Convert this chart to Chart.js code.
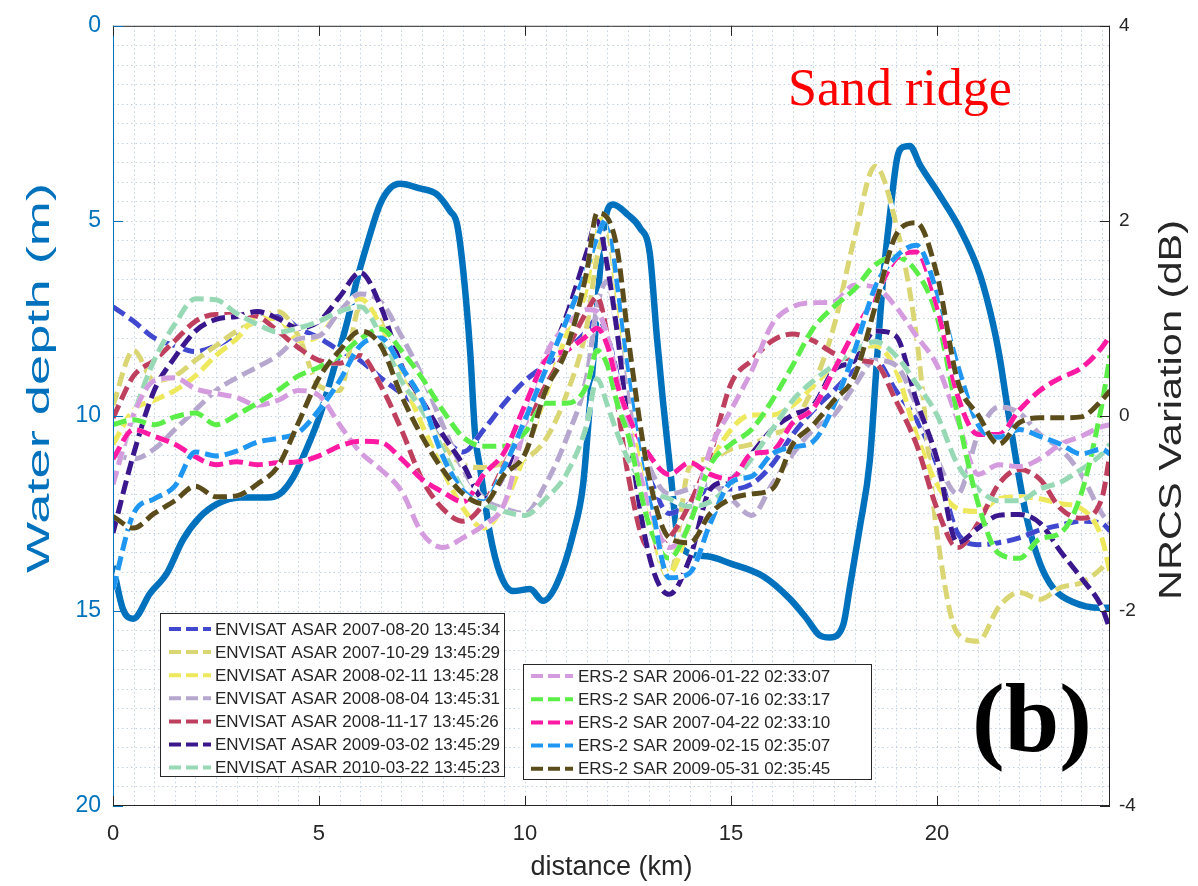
<!DOCTYPE html>
<html>
<head>
<meta charset="utf-8">
<script src="https://cdn.jsdelivr.net/npm/chart.js@4.4.0/dist/chart.umd.min.js"></script>
<style>
html,body{margin:0;padding:0;background:#ffffff;}
#wrap{width:1198px;height:886px;position:relative;}
</style>
</head>
<body>
<div id="wrap"><canvas id="c" width="1198" height="886"></canvas></div>
<script>
// ---------- DATA ----------
// Water depth profile (left axis, m)
const depthDistance = [0,0.24,0.49,0.9,1.31,1.7,2.11,2.52,3.08,3.74,4.05,4.37,4.71,5.02,5.34,5.68,5.92,6.17,6.48,6.72,6.97,7.45,7.86,8.18,8.35,8.5,8.67,8.79,8.91,9.15,9.39,9.71,10.12,10.44,10.78,11.17,11.41,11.58,11.7,11.82,11.94,12.14,12.48,12.79,13.03,13.2,13.35,13.52,13.76,14.42,14.98,15.78,16.43,16.84,17.16,17.4,17.72,17.89,18.13,18.37,18.54,18.69,18.86,19.03,19.17,19.34,19.59,20.07,20.56,21.04,21.36,21.53,21.7,21.94,22.18,22.5,22.82,23.3,23.96,24.2];
const waterDepth = [13.85,14.95,15.2,14.55,14.03,13.17,12.59,12.26,12.09,12.09,12.0,11.58,10.82,9.99,8.87,7.61,6.52,5.59,4.58,4.17,4.05,4.17,4.32,4.75,5.08,6.27,8.37,10.49,11.33,13.02,14.03,14.49,14.44,14.74,14.29,13.02,11.76,9.63,7.96,6.27,5.01,4.58,4.83,5.18,5.84,7.96,9.63,11.33,13.35,13.6,13.78,14.11,14.69,15.2,15.63,15.68,15.37,14.36,12.84,11.15,8.62,6.52,4.83,3.41,3.11,3.08,3.57,4.35,5.21,6.37,7.64,8.55,9.71,11.25,12.62,13.78,14.41,14.77,14.92,14.92];

// Distance samples shared by the NRCS profiles (km)
const distance = [0,0.5,1,1.5,2,2.5,3,3.5,4,4.5,5,5.5,6,6.5,7,7.5,8,8.5,9,9.5,10,10.5,11,11.5,11.75,12,12.25,12.5,13,13.5,14,14.5,15,15.5,16,16.5,17,17.5,18,18.5,19,19.5,20,20.5,21,21.5,22,22.5,23,23.5,24,24.2];

// NRCS variation profiles (right axis, dB)
const envisat_20070820 = [1.12,0.97,0.80,0.72,0.66,0.72,0.84,1.00,1.04,0.90, 0.80,0.67,0.57,0.39,0.23,0.06,-0.21,-0.37,-0.14,0.13, 0.36,0.52,0.67,0.87,1.00,0.82,0.41,0.01,-0.60,-1.00, -0.90,-0.75,-0.75,-0.70,-0.50,-0.19,0.06,0.26,0.47,0.57, 0.26,-0.04,-0.50,-1.20,-1.32,-1.30,-1.25,-1.17,-1.12,-1.08, -1.10,-1.18];
const envisat_20071029 = [0.11,0.67,0.36,0.41,0.57,0.72,0.87,0.97,1.07,0.82, 0.31,0.26,1.12,0.97,0.47,0.06,-0.29,-0.50,-0.53,-0.48, -0.44,-0.24,0.21,0.92,1.63,1.88,1.12,0.21,-1.00,-1.66, -0.52,-0.44,-0.34,-0.29,-0.19,-0.09,0.31,0.92,1.83,2.56, 1.98,0.82,-1.20,-2.23,-2.31,-1.96,-1.81,-1.88,-1.76,-1.71, -1.56,-1.46];
const envisat_20080211 = [-0.29,0.06,0.16,0.26,0.41,0.62,0.79,1.00,1.00,0.77, 0.82,1.07,1.20,0.92,0.41,-0.09,-0.55,-0.95,-1.15,-0.90, -0.39,0.21,0.82,1.32,1.98,2.03,1.22,0.31,-1.00,-1.61, -1.10,-0.50,-0.14,0.01,0.01,0.11,0.31,0.52,0.67,0.72, 0.47,-0.19,-0.70,-0.95,-0.98,-0.85,-0.83,-0.85,-0.90,-0.95, -1.25,-1.61];
const envisat_20080804 = [-0.39,-0.44,-0.34,-0.14,0.06,0.26,0.39,0.50,0.62,0.79, 0.82,1.07,1.25,1.17,0.82,0.41,-0.09,-0.55,-0.85,-0.95, -1.00,-0.70,-0.24,0.41,1.12,1.38,0.82,0.21,-0.50,-0.80, -0.75,-0.70,-0.85,-1.02,-0.70,-0.39,-0.14,0.01,0.31,0.57, 0.52,0.11,-0.44,-0.80,-0.19,0.09,0.03,-0.19,-0.34,-0.60, -1.00,-1.10];
const envisat_20081117 = [-0.02,0.41,0.57,0.77,0.97,1.04,1.04,1.02,0.87,0.70, 0.57,0.54,0.62,0.31,-0.14,-0.65,-0.95,-1.08,-0.90,-0.50, -0.09,0.31,0.67,1.07,1.22,0.82,0.11,-0.60,-1.35,-1.25, -0.90,-0.39,0.33,0.57,0.77,0.84,0.77,0.64,0.57,0.54, 0.16,-0.29,-0.95,-1.35,-1.10,-0.70,-0.55,-0.65,-0.95,-1.05, -0.85,-0.39];
const envisat_20090302 = [-1.20,-0.39,0.26,0.60,0.87,0.99,1.02,1.07,1.00,0.90, 0.97,1.22,1.47,1.12,0.52,0.16,-0.19,-0.50,-0.85,-0.60, -0.04,0.50,1.02,1.68,2.00,1.53,0.82,-0.09,-1.41,-1.83, -1.46,-0.75,-0.65,-0.39,-0.14,0.01,0.11,0.47,0.57,0.87, 0.82,0.16,-0.44,-1.30,-1.15,-1.02,-1.01,-1.10,-1.39,-1.66, -1.96,-2.19];
const envisat_20100322 = [-0.70,0.01,0.57,0.94,1.20,1.19,1.05,0.94,0.86,0.90, 0.97,1.07,1.12,0.82,0.36,0.06,-0.34,-0.75,-0.90,-0.98, -1.02,-0.85,-0.60,-0.09,0.38,0.11,-0.19,-0.44,-0.75,-0.85, -0.93,-0.88,-0.70,-0.44,-0.14,0.16,0.36,0.52,0.67,0.76, 0.62,0.33,0.01,-0.50,-0.75,-0.87,-0.87,-0.75,-0.68,-0.55, -0.39,-0.29];
const ers_20060122 = [-0.70,0.01,0.36,0.39,0.28,0.23,0.19,0.11,0.16,0.26, 0.21,-0.09,-0.37,-0.55,-0.77,-1.20,-1.35,-1.25,-1.12,-0.90, -0.09,0.62,0.92,1.09,1.07,0.82,0.36,-0.09,-0.90,-1.35, -1.10,-0.34,0.06,0.46,0.94,1.12,1.16,1.17,1.34,1.32, 1.12,0.82,0.52,-0.04,-0.60,-0.50,-0.52,-0.44,-0.29,-0.21, -0.11,-0.09];
const ers_20060716 = [-0.09,-0.04,-0.09,-0.01,0.03,-0.09,0.01,0.13,0.26,0.41, 0.50,0.62,0.79,0.89,0.67,0.39,0.06,-0.22,-0.31,-0.31, -0.17,0.13,0.13,0.31,0.67,0.52,0.11,-0.19,-1.10,-1.46, -1.10,-0.50,-0.29,-0.14,0.16,0.52,0.90,1.12,1.30,1.55, 1.63,1.48,1.02,0.01,-0.90,-1.41,-1.46,-1.26,-1.20,-0.80, 0.11,0.62];
const ers_20070422 = [-0.44,-0.14,-0.21,-0.29,-0.42,-0.50,-0.47,-0.50,-0.48,-0.47, -0.41,-0.31,-0.26,-0.27,-0.44,-0.65,-0.78,-0.88,-0.60,-0.37, 0.11,0.57,0.67,0.82,0.90,0.72,0.31,0.01,-0.39,-0.60, -0.48,-0.60,-0.65,-0.39,-0.36,-0.07,0.08,0.47,0.87,1.22, 1.61,1.68,1.12,0.21,-0.19,-0.19,0.06,0.26,0.39,0.49, 0.70,0.82];
const ers_20090215 = [-1.78,-1.00,-0.85,-0.72,-0.37,-0.41,-0.36,-0.27,-0.23,-0.17, 0.06,0.36,0.72,0.80,0.50,0.16,-0.41,-0.77,-0.88,-0.52, -0.04,0.47,0.97,1.51,1.83,2.03,1.32,0.52,-0.70,-1.66, -1.61,-1.10,-0.68,-0.62,-0.39,-0.32,-0.26,0.11,0.67,1.32, 1.63,1.75,1.27,0.52,-0.09,-0.22,-0.14,-0.21,-0.29,-0.39, -0.34,-0.39];
const ers_20090531 = [-1.03,-1.15,-1.00,-0.87,-0.72,-0.83,-0.82,-0.70,-0.52,-0.07, 0.39,0.67,0.87,0.72,0.21,-0.21,-0.55,-0.80,-0.90,-0.60, -0.39,0.26,0.67,1.48,2.08,2.03,1.68,0.82,-0.60,-1.25, -1.30,-1.00,-0.85,-0.80,-0.75,-0.29,-0.09,0.16,0.41,1.12, 1.85,1.98,1.45,0.36,0.01,-0.29,-0.07,-0.02,-0.02,-0.01, 0.16,0.26];

const seriesLabels = [
  'ENVISAT ASAR 2007-08-20 13:45:34',
  'ENVISAT ASAR 2007-10-29 13:45:29',
  'ENVISAT ASAR 2008-02-11 13:45:28',
  'ENVISAT ASAR 2008-08-04 13:45:31',
  'ENVISAT ASAR 2008-11-17 13:45:26',
  'ENVISAT ASAR 2009-03-02 13:45:29',
  'ENVISAT ASAR 2010-03-22 13:45:23',
  'ERS-2 SAR 2006-01-22 02:33:07',
  'ERS-2 SAR 2006-07-16 02:33:17',
  'ERS-2 SAR 2007-04-22 02:33:10',
  'ERS-2 SAR 2009-02-15 02:35:07',
  'ERS-2 SAR 2009-05-31 02:35:45'
];
const seriesValues = [envisat_20070820, envisat_20071029, envisat_20080211, envisat_20080804, envisat_20081117, envisat_20090302, envisat_20100322, ers_20060122, ers_20060716, ers_20070422, ers_20090215, ers_20090531];

const distanceTicks = [0,5,10,15,20];
const depthTicks = [0,5,10,15,20];
const nrcsTicks = [-4,-2,0,2,4];

// ---------- STYLE ----------
const seriesColors = ['#4048D0','#DAD673','#EDE85C','#B6A7CF','#BF3F5F','#3B178D','#97D9B5','#D49CDF','#5CEE48','#FF1AA4','#1F97F2','#5B4C1B'];
const depthColor = '#0072BD';
const axisColor = '#262626';
const SANS = "'Liberation Sans', Arial, Helvetica, sans-serif";
const SERIF = "'Liberation Serif', 'Times New Roman', serif";
const DASH_W = 5;

const datasets = [{
  label: 'Water depth',
  data: depthDistance.map((x, i) => ({x: x, y: waterDepth[i]})),
  yAxisID: 'y',
  borderColor: depthColor,
  borderWidth: 6.5,
  pointRadius: 0,
  fill: false,
  cubicInterpolationMode: 'monotone',
  order: 100
}];
seriesValues.forEach((vals, k) => {
  datasets.push({
    label: seriesLabels[k],
    data: distance.map((x, i) => ({x: x, y: vals[i]})),
    yAxisID: 'y2',
    borderColor: seriesColors[k],
    borderWidth: DASH_W,
    borderDash: [14, 6],
    borderCapStyle: 'butt',
    pointRadius: 0,
    fill: false,
    cubicInterpolationMode: 'monotone',
    order: 50 - k
  });
});

function drawStretchedVertical(ctx, text, cx, cy, font, color, targetLen) {
  ctx.save();
  ctx.font = font;
  const w = ctx.measureText(text).width;
  ctx.translate(cx, cy);
  ctx.rotate(-Math.PI / 2);
  ctx.scale(targetLen / w, 1);
  ctx.fillStyle = color;
  ctx.textAlign = 'center';
  ctx.textBaseline = 'middle';
  ctx.fillText(text, 0, 0);
  ctx.restore();
}

function drawLegendBox(ctx, box, firstIdx, count) {
  ctx.save();
  ctx.fillStyle = '#ffffff';
  ctx.fillRect(box.x, box.y, box.w, box.h);
  ctx.strokeStyle = axisColor;
  ctx.lineWidth = 1;
  ctx.strokeRect(box.x + 0.5, box.y + 0.5, box.w, box.h);
  ctx.font = '17px ' + SANS;
  ctx.textBaseline = 'middle';
  ctx.textAlign = 'left';
  for (let j = 0; j < count; j++) {
    const k = firstIdx + j;
    const yy = box.row0 + j * box.dy;
    ctx.strokeStyle = seriesColors[k];
    ctx.lineWidth = 4;
    ctx.setLineDash([12, 5]);
    ctx.beginPath();
    ctx.moveTo(box.x + box.sx0, yy);
    ctx.lineTo(box.x + box.sx1, yy);
    ctx.stroke();
    ctx.setLineDash([]);
    ctx.fillStyle = axisColor;
    ctx.fillText(seriesLabels[k], box.x + box.tx, yy + 1);
  }
  ctx.restore();
}

const decor = {
  id: 'decor',
  beforeDatasetsDraw(chart) {
    const {ctx, chartArea: a, scales} = chart;
    ctx.save();
    ctx.strokeStyle = '#C2D2E2';
    ctx.lineWidth = 1;
    ctx.setLineDash([1.5, 3]);
    const xs = scales.x, ys = scales.y;
    for (let v = xs.min; v <= xs.max + 1e-9; v += 0.5) {
      const px = Math.round(xs.getPixelForValue(v)) + 0.5;
      if (px <= a.left + 1 || px >= a.right - 1) continue;
      ctx.beginPath(); ctx.moveTo(px, a.top); ctx.lineTo(px, a.bottom); ctx.stroke();
    }
    for (let v = ys.min; v <= ys.max + 1e-9; v += 0.5) {
      const py = Math.round(ys.getPixelForValue(v)) + 0.5;
      if (py <= a.top + 1 || py >= a.bottom - 1) continue;
      ctx.beginPath(); ctx.moveTo(a.left, py); ctx.lineTo(a.right, py); ctx.stroke();
    }
    ctx.restore();
  },
  beforeDatasetDraw(chart, args) {
    if (args.index === 0) return;
    const {ctx, chartArea: a} = chart;
    const line = args.meta.dataset;
    if (!line || !line.path) return;
    ctx.save();
    ctx.beginPath();
    ctx.rect(a.left, a.top, a.right - a.left, a.bottom - a.top);
    ctx.clip();
    ctx.beginPath();
    line.path(ctx);
    ctx.strokeStyle = '#ffffff';
    ctx.lineWidth = DASH_W;
    ctx.lineJoin = 'round';
    ctx.setLineDash([]);
    ctx.stroke();
    ctx.restore();
  },
  afterDatasetsDraw(chart) {
    const {ctx, chartArea: a, scales} = chart;
    ctx.save();
    ctx.setLineDash([]);
    ctx.lineWidth = 1;
    ctx.strokeStyle = axisColor;
    ctx.beginPath();
    ctx.moveTo(a.left, a.top + 0.5); ctx.lineTo(a.right, a.top + 0.5);
    ctx.moveTo(a.right - 0.5, a.top); ctx.lineTo(a.right - 0.5, a.bottom);
    ctx.moveTo(a.left, a.bottom - 0.5); ctx.lineTo(a.right, a.bottom - 0.5);
    ctx.stroke();
    ctx.strokeStyle = depthColor;
    ctx.beginPath(); ctx.moveTo(a.left + 0.5, a.top); ctx.lineTo(a.left + 0.5, a.bottom); ctx.stroke();
    const tl = 10;
    ctx.strokeStyle = axisColor;
    distanceTicks.forEach(v => {
      const px = Math.round(scales.x.getPixelForValue(v)) + 0.5;
      ctx.beginPath();
      ctx.moveTo(px, a.bottom); ctx.lineTo(px, a.bottom - tl);
      ctx.moveTo(px, a.top); ctx.lineTo(px, a.top + tl);
      ctx.stroke();
    });
    nrcsTicks.forEach(v => {
      const py = Math.round(scales.y2.getPixelForValue(v)) + 0.5;
      ctx.beginPath(); ctx.moveTo(a.right, py); ctx.lineTo(a.right - tl, py); ctx.stroke();
    });
    ctx.strokeStyle = depthColor;
    depthTicks.forEach(v => {
      const py = Math.round(scales.y.getPixelForValue(v)) + 0.5;
      ctx.beginPath(); ctx.moveTo(a.left, py); ctx.lineTo(a.left + tl, py); ctx.stroke();
    });
    ctx.restore();
  },
  afterDraw(chart) {
    const {ctx} = chart;
    ctx.save();
    ctx.fillStyle = '#FF0000';
    ctx.font = '52px ' + SERIF;
    ctx.textAlign = 'left';
    ctx.textBaseline = 'alphabetic';
    ctx.fillText('Sand ridge', 788, 105);
    ctx.fillStyle = '#000000';
    ctx.font = 'bold 98px ' + SERIF;
    ctx.fillText('(b)', 972, 751);
    ctx.restore();
    drawLegendBox(ctx, {x: 160, y: 613, w: 344, h: 163, row0: 629, dy: 23.1, sx0: 9, sx1: 51, tx: 55}, 0, 7);
    drawLegendBox(ctx, {x: 523, y: 664, w: 348, h: 115, row0: 676, dy: 23.2, sx0: 8, sx1: 50, tx: 55}, 7, 5);
    drawStretchedVertical(ctx, 'Water depth (m)', 40, 378, '32px ' + SANS, depthColor, 390);
    drawStretchedVertical(ctx, 'NRCS Variation (dB)', 1172, 410, '31px ' + SANS, axisColor, 380);
  }
};

new Chart(document.getElementById('c'), {
  type: 'line',
  data: {datasets: datasets},
  options: {
    responsive: false,
    animation: false,
    devicePixelRatio: 1,
    layout: {padding: {top: 12, left: 0, right: 0, bottom: 0}},
    plugins: {legend: {display: false}, tooltip: {enabled: false}},
    scales: {
      x: {
        type: 'linear',
        position: 'bottom',
        min: 0,
        max: 24.2,
        afterFit: s => { s.height = 80; },
        grid: {display: false, drawTicks: false},
        border: {display: false},
        ticks: {
          stepSize: 5,
          includeBounds: false,
          autoSkip: false,
          maxRotation: 0,
          padding: 15,
          color: axisColor,
          font: {family: SANS, size: 22},
          callback: v => (distanceTicks.includes(v) ? String(v) : '')
        },
        title: {display: true, text: 'distance (km)', color: axisColor, font: {family: SANS, size: 27}, padding: {top: 0, bottom: 2}}
      },
      y: {
        type: 'linear',
        position: 'left',
        reverse: true,
        min: 0,
        max: 20,
        afterFit: s => { s.width = 113; },
        grid: {display: false, drawTicks: false},
        border: {display: false},
        ticks: {
          stepSize: 5,
          autoSkip: false,
          padding: 12,
          color: depthColor,
          font: {family: SANS, size: 23},
          callback: v => (depthTicks.includes(v) ? String(v) : '')
        },
        title: {display: false}
      },
      y2: {
        type: 'linear',
        position: 'right',
        min: -4,
        max: 4,
        afterFit: s => { s.width = 88; },
        grid: {display: false, drawTicks: false},
        border: {display: false},
        ticks: {
          stepSize: 2,
          autoSkip: false,
          padding: 9,
          color: axisColor,
          font: {family: SANS, size: 19},
          callback: v => (nrcsTicks.includes(v) ? String(v) : '')
        },
        title: {display: false}
      }
    }
  },
  plugins: [decor]
});
</script>
</body>
</html>
